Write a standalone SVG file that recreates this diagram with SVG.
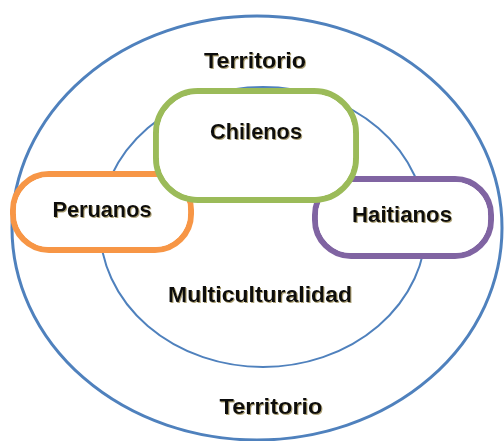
<svg xmlns="http://www.w3.org/2000/svg" width="504" height="441" viewBox="0 0 504 441">
<defs>
<filter id="sh" x="-10%" y="-30%" width="130%" height="160%">
<feDropShadow dx="1" dy="1" stdDeviation="0.4" flood-color="#8a7a40" flood-opacity="0.7"/>
</filter>
</defs>
<style>
.lbl{font-family:"Liberation Sans",Arial,sans-serif;font-weight:bold;fill:#111;text-anchor:middle;filter:url(#sh)}
.big{font-size:22px}
.box{fill:#fff;stroke-width:6}
.inl{fill:none;stroke:#fff;stroke-width:1.2}
</style>
<rect width="504" height="441" fill="#fff"/>
<g id="territorio">
<ellipse cx="257" cy="228" rx="245" ry="212" fill="none" stroke="#4f81bd" stroke-width="3"/>
<text class="lbl big" x="255" y="68" textLength="102" lengthAdjust="spacingAndGlyphs">Territorio</text>
<text class="lbl big" x="271" y="414" textLength="103" lengthAdjust="spacingAndGlyphs">Territorio</text>
</g>
<g id="multiculturalidad">
<ellipse cx="263" cy="227" rx="163" ry="140" fill="none" stroke="#4f81bd" stroke-width="2"/>
<text class="lbl big" x="260" y="302" textLength="184" lengthAdjust="spacingAndGlyphs">Multiculturalidad</text>
</g>
<g id="peruanos">
<rect class="box" x="13" y="174" width="178" height="76" rx="36" stroke="#f79646"/>
<rect class="inl" x="16.5" y="177.5" width="171" height="69" rx="33"/>
<text class="lbl big" x="102" y="217" textLength="99" lengthAdjust="spacingAndGlyphs">Peruanos</text>
</g>
<g id="haitianos">
<rect class="box" x="315" y="179" width="176" height="77" rx="36" stroke="#8064a2"/>
<rect class="inl" x="318.5" y="182.5" width="169" height="70" rx="33"/>
<text class="lbl big" x="402" y="222" textLength="100" lengthAdjust="spacingAndGlyphs">Haitianos</text>
</g>
<g id="chilenos">
<rect class="box" x="156" y="91" width="200" height="109" rx="42" stroke="#9bbb59"/>
<rect class="inl" x="159.5" y="94.5" width="193" height="102" rx="39"/>
<text class="lbl big" x="256" y="139" textLength="92" lengthAdjust="spacingAndGlyphs">Chilenos</text>
</g>
<g id="connectors"></g>
</svg>
